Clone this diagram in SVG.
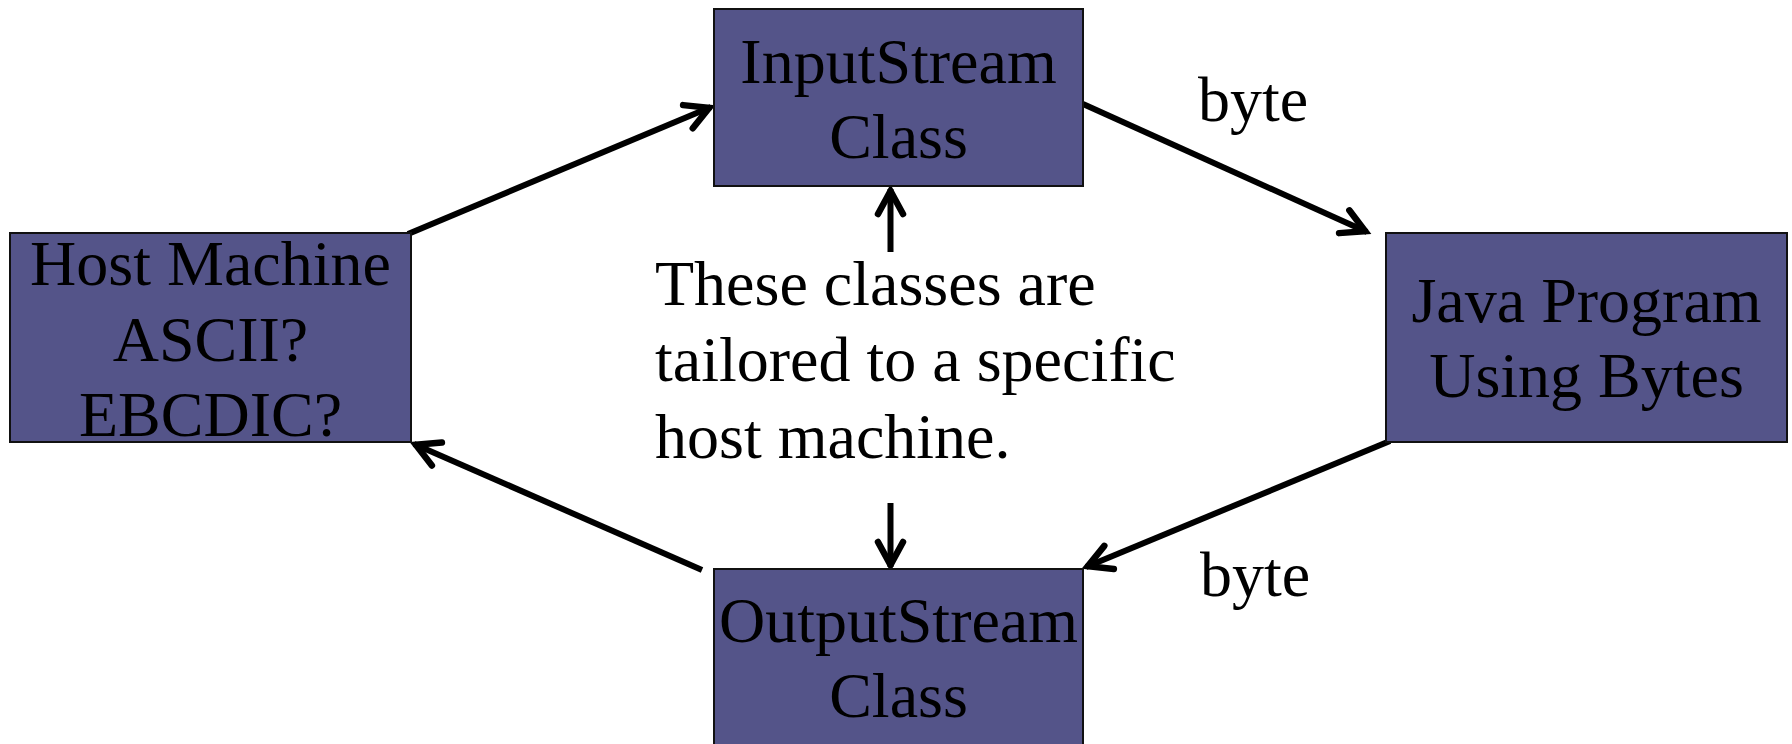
<svg xmlns="http://www.w3.org/2000/svg" width="1792" height="744" viewBox="0 0 1792 744">
  <style>
    .box { fill: #545489; stroke: #111111; stroke-width: 2; }
    .label { font-family: "Liberation Serif", "Times New Roman", serif; font-size: 64px; fill: #000000; }
    .mid { text-anchor: middle; }
    .edge { stroke: #000000; stroke-width: 6; fill: none; marker-end: url(#open-arrow); }
  </style>
  <defs>
    <!-- open V arrowhead, tip sits at the path end -->
    <marker id="open-arrow" markerUnits="userSpaceOnUse" markerWidth="44" markerHeight="44" viewBox="-36 -22 44 44" refX="0" refY="0" orient="auto" overflow="visible">
      <path d="M-25,-12.5 L-2,0 L-25,12.5" fill="none" stroke="#000000" stroke-width="6.5" stroke-linecap="round" stroke-linejoin="miter"/>
    </marker>
  </defs>

  <rect width="1792" height="744" fill="#ffffff"/>

  <!-- connectors -->
  <g id="connectors">
    <line class="edge" x1="408" y1="234" x2="711" y2="107"/>
    <line class="edge" x1="1083" y1="104" x2="1367" y2="232"/>
    <line class="edge" x1="1390" y1="441" x2="1086" y2="567"/>
    <line class="edge" x1="702" y1="570" x2="414" y2="444"/>
    <line class="edge" x1="890.5" y1="252" x2="890.5" y2="189"/>
    <line class="edge" x1="890.5" y1="503" x2="890.5" y2="567"/>
    <text class="label" x="1198" y="121">byte</text>
    <text class="label" x="1200" y="596">byte</text>
  </g>

  <!-- host machine -->
  <g id="host-machine">
    <rect class="box" x="10" y="233" width="401" height="209"/>
    <text class="label mid" x="210.5" y="285">Host Machine</text>
    <text class="label mid" x="210.5" y="361">ASCII?</text>
    <text class="label mid" x="210.5" y="436">EBCDIC?</text>
  </g>

  <!-- input stream class -->
  <g id="input-stream">
    <rect class="box" x="714" y="9" width="369" height="177"/>
    <text class="label mid" x="898.5" y="83">InputStream</text>
    <text class="label mid" x="898.5" y="158">Class</text>
  </g>

  <!-- java program -->
  <g id="java-program">
    <rect class="box" x="1386" y="233" width="401" height="209"/>
    <text class="label mid" x="1586.5" y="322">Java Program</text>
    <text class="label mid" x="1586.5" y="397">Using Bytes</text>
  </g>

  <!-- output stream class -->
  <g id="output-stream">
    <rect class="box" x="714" y="569" width="369" height="200"/>
    <text class="label mid" x="898.5" y="642">OutputStream</text>
    <text class="label mid" x="898.5" y="717">Class</text>
  </g>

  <!-- note between the stream classes -->
  <g id="note">
    <text class="label" x="655" y="305">These classes are</text>
    <text class="label" x="655" y="381">tailored to a specific</text>
    <text class="label" x="655" y="458">host machine.</text>
  </g>
</svg>
